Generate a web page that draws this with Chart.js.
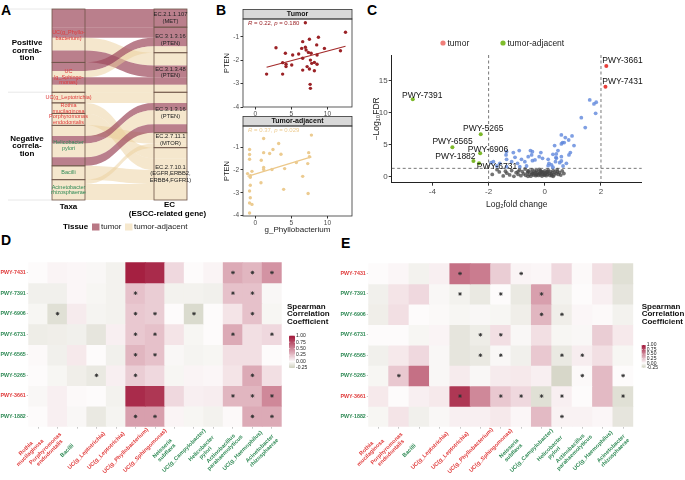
<!DOCTYPE html>
<html><head><meta charset="utf-8">
<script src="https://cdn.jsdelivr.net/npm/chart.js@4.4.1/dist/chart.umd.min.js"></script>
<style>
html,body{margin:0;padding:0;background:#fff;}
body{width:685px;height:480px;position:relative;overflow:hidden;font-family:"Liberation Sans",Arial,Helvetica,sans-serif;}
.plbl{position:absolute;font-weight:bold;font-size:14px;line-height:14px;color:#000;}
</style></head><body>
<div class="plbl" style="left:1px;top:3px">A</div>
<div class="plbl" style="left:216px;top:3px">B</div>
<div class="plbl" style="left:367px;top:3px">C</div>
<div class="plbl" style="left:1px;top:233px">D</div>
<div class="plbl" style="left:341px;top:236px">E</div>
<script>
// ================= DATA =================
// ---- Panel A (alluvial) ----
const taxaLabels = [['UC(g_Phyllo-','bacterium)'],['UC','(g_Sphingo-','monas)'],['UC(g_Leptotrichia)'],['Rothia','mucilaginosa'],['Porphyromonas','endodontalis'],['Helicobacter','pylori'],['Bacilli'],['Acinetobacter','rhizosphaerae']];
const taxaEnriched = ['tumor','tumor','tumor','tumor','tumor','adjacent','adjacent','adjacent'];
const ecLabels = [['EC.2.1.1.107','(MET)'],['EC.3.1.3.16','(PTEN)'],['EC.3.1.3.48','(PTEN)'],['EC.3.1.3.16','(PTEN)'],['EC.2.7.11.1','(MTOR)'],['EC.2.7.10.1','(EGFR,ERBB2,','ERBB4,FGFR1)']];
const corrGroupLabels = [['Positive','correla-','tion'],['Negative','correla-','tion']];
const corrGroupOfTaxon = [0,0,1,1,1,1,1,1];
const flowFrom   = [0,0,0,0,1,1,1,1,2,3,4,5,5,5,5,6,7,7];
const flowTo     = [0,1,2,2,1,1,2,2,3,5,5,4,3,3,3,5,4,5];
const flowTissue = ['tumor','tumor','adjacent','tumor','tumor','adjacent','tumor','adjacent','adjacent','adjacent','adjacent','adjacent','tumor','adjacent','tumor','adjacent','adjacent','adjacent'];
const flowWeight = [1.7,1.0,1.2,1.1,0.8,0.6,0.7,0.7,1.0,1.0,1.1,1.0,0.7,1.3,0.8,1.3,0.4,1.5];

// ---- Panel B (scatter) ----
const tumorX = [6.94,12.5,8.75,7.5,6.57,8.51,2.87,6.94,7.04,9.58,11.8,6.43,7.36,4.17,5.18,6.01,7.74,8.56,6.57,7.64,3.79,4.26,4.26,5.05,8.19,8.56,7.82,7.18,7.5,6.57,8.19,1.57,3.79,7.6,7.64];
const tumorY = [-0.39,-0.80,-1.01,-1.10,-1.20,-1.34,-1.46,-1.44,-1.56,-1.49,-1.59,-1.49,-1.66,-1.70,-1.77,-1.73,-1.70,-1.77,-1.91,-1.99,-2.10,-2.17,-2.27,-2.20,-2.09,-2.17,-2.13,-2.27,-2.37,-2.42,-2.45,-2.59,-2.59,-3.03,-3.20];
const adjX = [7.78,1.16,3.24,-0.79,2.45,1.16,1.99,3.56,7.4,-0.79,7.5,-0.79,0.83,5.69,7.27,1.16,1.16,2.31,4.07,-0.46,-1.07,-0.69,-0.69,6.57,0.79,-0.69,-0.79,3.93,7.32,-0.69,-0.79,-0.46,-0.79];
const adjY = [-0.47,-0.62,-0.84,-1.10,-1.10,-1.24,-1.28,-1.31,-1.24,-1.32,-1.42,-1.53,-1.57,-1.67,-1.72,-1.89,-1.98,-1.98,-1.94,-2.06,-2.16,-2.25,-2.32,-2.28,-2.56,-2.67,-2.92,-2.85,-3.03,-3.22,-3.45,-3.51,-3.89];
const tumorStat = ['0.22','0.180'];
const adjStat = ['0.37','0.029'];

// ---- Panel C (volcano) ----
const pathwayNames = ['PWY-3661','PWY-7431','PWY-7391','PWY-5265','PWY-6565','PWY-6906','PWY-1882','PWY-6731'];
const pathwayFC = [2.19,2.16,-4.70,-2.28,-3.29,-2.30,-2.54,-2.34];
const pathwayNegLogFDR = [17.3,14.06,12.09,6.62,4.59,3.65,2.45,2.08];
const pathwayGroup = ['tumor','tumor','adjacent','adjacent','adjacent','adjacent','adjacent','adjacent'];
const labelFC = [2.05,2.05,-5.08,-2.91,-4.0,-2.74,-3.9,-2.42];
const labelNegLogFDR = [18.1,14.8,12.6,7.45,5.47,4.28,3.13,1.56];
const sigFC = [1.60,1.75,1.83,1.81,1.30,1.44,0.59,0.97,0.73,0.85,1.04,0.63,0.69,0.59,0.35,0.47,0.41,0.29,0.91,0.86,0.59,0.41,0.59,0.38,0.53,0.12,0.15,0.24,0.12,0.29,-0.14,-0.20,-0.08,-0.51,-0.44,-0.47,-0.59,-0.44,-0.35,-0.91,-1.12,-1.36,-1.38,-1.06,-0.83,-0.71,-0.97,-1.18,-1.36,-1.60,-1.83,-1.91,-1.36,-0.89,-0.65,-1.71,0.40,0.77,0.65];
const sigNegLogFDR = [11.98,11.36,11.62,9.9,9.22,7.66,6.52,6.36,6.1,5.73,4.85,5.32,5.32,5.11,4.85,4.07,3.55,3.49,3.76,3.39,3.13,2.87,2.45,2.35,2.19,2.71,2.09,1.83,1.72,1.47,3.76,3.13,2.87,4.07,3.91,3.39,3.13,2.5,2.61,4.07,3.76,3.91,3.39,3.03,2.71,2.35,2.09,2.35,2.71,2.09,2.35,2.19,1.56,1.56,1.67,1.67,3.03,2.09,1.67];
const nsFC = [-1.87,-1.62,-1.48,-1.35,-1.25,-1.18,-1.1,-1.02,-0.95,-0.9,-0.85,-0.8,-0.75,-0.7,-0.68,-0.62,-0.58,-0.55,-0.5,-0.48,-0.45,-0.42,-0.4,-0.37,-0.35,-0.32,-0.3,-0.28,-0.25,-0.22,-0.2,-0.18,-0.15,-0.13,-0.1,-0.08,-0.05,-0.03,0.0,0.02,0.05,0.07,0.1,0.12,0.15,0.18,0.2,0.23,0.26,0.3,0.33,0.36,0.4,0.44,0.48,0.52,0.57,0.62,0.68,0.3,-0.6,-1.4,-1.7,-0.95,-0.3,0.1,-0.15,0.25,-0.45,-0.6,0.45,-0.2,0.0,-0.1];
const nsNegLogFDR = [0.35,0.75,0.12,0.55,0.28,0.95,0.05,0.62,0.35,1.05,0.15,0.78,0.45,1.2,0.22,0.6,0.9,0.35,0.08,0.7,1.1,0.5,0.25,0.85,0.6,0.15,0.95,0.4,0.7,0.2,1.15,0.55,0.3,0.8,0.1,0.45,0.65,0.25,0.9,0.5,0.15,0.7,0.35,1.05,0.55,0.2,0.8,0.4,0.6,0.95,0.3,0.75,0.5,1.1,0.35,0.65,0.25,0.9,0.5,0.05,0.05,0.85,1.1,0.8,0.3,0.8,0.95,0.15,0.4,0.85,0.8,0.45,0.3,0.75];
const fcCutoff = 2;
const fdrCutoff = 0.05;

// ---- Panels D/E (heatmaps) ----
const hmRows = ['PWY-7431','PWY-7391','PWY-6906','PWY-6731','PWY-6565','PWY-5265','PWY-3661','PWY-1882'];
const hmRowGroup = ['tumor','adjacent','adjacent','adjacent','adjacent','adjacent','tumor','adjacent'];
const hmCols = [['Rothia','mucilaginosa'],['Porphyromonas','endodontalis'],'Bacilli','UC(g_Leptotrichia)','UC(g_Leptotrichia)','UC(g_Phyllobacterium)','UC(g_Sphingomonas)',['Neisseria','subflava'],'UC(g_Campylobacter)',['Helicobacter','pylori'],['Actinobacillus','parahaemolyticus'],'UC(g_Haemophilus)',['Acinetobacter','rhizosphaerae']];
const hmColGroup = ['tumor','tumor','adjacent','tumor','tumor','tumor','tumor','adjacent','adjacent','adjacent','adjacent','adjacent','adjacent'];
const dCorr = [
 [0.00,0.03,0.02,-0.02,-0.05,0.95,0.90,0.15,0.00,0.03,0.35,0.30,0.45],
 [-0.06,-0.06,0.02,-0.03,-0.05,0.25,0.20,-0.05,-0.05,-0.06,0.25,0.25,-0.02],
 [-0.03,-0.15,0.07,-0.04,-0.05,0.22,0.20,0.00,-0.18,0.00,0.10,0.25,-0.03],
 [-0.08,-0.07,-0.06,-0.12,0.05,0.22,0.25,0.10,-0.03,0.00,0.35,0.12,0.15],
 [0.01,-0.06,0.08,0.00,-0.06,0.30,0.25,-0.02,-0.04,-0.03,0.12,0.12,0.00],
 [0.00,-0.03,-0.07,-0.10,0.05,0.20,0.15,-0.03,0.03,0.02,0.10,0.35,0.12],
 [-0.02,0.05,0.01,0.00,-0.05,0.90,0.85,0.15,0.05,0.06,0.30,0.30,0.50],
 [0.00,0.05,-0.02,-0.10,-0.04,0.40,0.40,0.03,-0.03,-0.05,0.01,0.35,0.35]];
const dSig = [[11,12,13],[6,11,12],[2,6,7,9,12],[6,7,11,13],[6,7],[4,6,12],[11,12,13],[6,7,12,13]];
const eCorr = [
 [0.00,0.02,-0.05,0.05,0.60,0.55,0.20,0.03,0.02,0.15,0.01,0.12,-0.15],
 [-0.06,0.10,0.15,-0.02,-0.05,-0.10,0.00,-0.10,0.40,-0.05,0.00,0.05,-0.12],
 [-0.07,0.12,0.00,-0.01,-0.03,-0.02,-0.03,-0.07,0.30,-0.07,0.02,0.01,-0.05],
 [0.00,0.00,-0.03,0.03,-0.12,-0.08,0.12,-0.02,0.12,-0.03,-0.02,0.20,0.08],
 [-0.06,0.08,0.15,-0.02,-0.12,-0.10,-0.02,-0.06,0.22,-0.10,0.06,0.12,-0.03],
 [-0.03,0.22,0.60,-0.02,0.07,-0.02,0.07,0.08,0.05,-0.20,0.01,0.28,0.00],
 [0.08,0.00,0.05,0.08,0.85,0.50,0.22,0.15,-0.15,0.05,0.00,0.28,-0.15],
 [-0.03,0.10,-0.06,-0.02,0.05,0.05,0.08,0.02,0.28,0.04,0.04,0.02,-0.12]];
const eSig = [[5,8],[5,7,9],[9,10],[6,7],[6,7,10,11],[2,11,13],[5,7,8,9,10,13],[10]];
const cbTicks = [1.00,0.75,0.50,0.25,0.00,-0.25];

// ================= DRAWING =================
Chart.defaults.font.family = '"Liberation Sans", Arial, Helvetica, sans-serif';
Chart.defaults.animation = false;
Chart.defaults.plugins.legend.display = false;
Chart.defaults.plugins.tooltip.enabled = false;
const RED = '#e03a3a', GREEN = '#2f8a55';
const grpColor = g => g === 'tumor' ? RED : GREEN;

function mk(left, top, w, h) {
  const c = document.createElement('canvas');
  c.width = w; c.height = h;
  c.style.cssText = 'position:absolute;left:' + left + 'px;top:' + top + 'px;width:' + w + 'px;height:' + h + 'px;';
  document.body.appendChild(c);
  return c;
}
function lines(ctx, arr, x, yc, lh) {
  const y0 = yc - (arr.length - 1) * lh / 2;
  arr.forEach((t, i) => ctx.fillText(t, x, y0 + i * lh));
}
function fixW(w) { return s => { s.width = w; }; }
function fixH(h) { return s => { s.height = h; }; }
function setTicks(vals) { return s => { s.ticks = vals.map(v => ({value: v})); }; }

// ---------- Panel A ----------
const totalW = flowWeight.reduce((a, b) => a + b, 0);
const SW = 33 / 135;
const alluvialPlugin = {
  id: 'alluvial',
  afterDraw(chart) {
    const {ctx, scales: {x, y}} = chart;
    const nT = taxaLabels.length, nE = ecLabels.length;
    const tTot = new Array(nT).fill(0), eTot = new Array(nE).fill(0);
    flowWeight.forEach((w, i) => { tTot[flowFrom[i]] += w; eTot[flowTo[i]] += w; });
    const tStart = [], eStart = [];
    let acc = 0; tTot.forEach((v, i) => { tStart[i] = acc; acc += v; });
    acc = 0; eTot.forEach((v, i) => { eStart[i] = acc; acc += v; });
    const tUsed = new Array(nT).fill(0), eUsed = new Array(nE).fill(0);
    const L = [], R = [];
    flowWeight.forEach((w, i) => { const t = flowFrom[i]; L[i] = tStart[t] + tUsed[t]; tUsed[t] += w; });
    const order = flowWeight.map((w, i) => i).sort((a, b) => flowTo[a] - flowTo[b] || a - b);
    order.forEach(i => { const e = flowTo[i]; R[i] = eStart[e] + eUsed[e]; eUsed[e] += flowWeight[i]; });
    const xL0 = x.getPixelForValue(0), xL1 = x.getPixelForValue(SW), xR0 = x.getPixelForValue(1 - SW), xR1 = x.getPixelForValue(1);
    const xm = (xL1 + xR0) / 2;
    ctx.save();
    const gStart = [0], gEnd = [];
    let g0 = 0; tTot.forEach((v, i) => { g0 += v; if (i + 1 < nT && corrGroupOfTaxon[i + 1] !== corrGroupOfTaxon[i]) { gEnd.push(g0); gStart.push(g0); } });
    gEnd.push(totalW);
    ctx.strokeStyle = '#e2e2e2'; ctx.lineWidth = 0.8;
    [0].concat(gEnd).forEach(v => { const py = y.getPixelForValue(v); ctx.beginPath(); ctx.moveTo(8, py); ctx.lineTo(xL0, py); ctx.stroke(); });
    ctx.fillStyle = '#000'; ctx.font = 'bold 8px "Liberation Sans", Arial'; ctx.textAlign = 'center'; ctx.textBaseline = 'middle';
    corrGroupLabels.forEach((lab, gi) => lines(ctx, lab, 27, y.getPixelForValue((gStart[gi] + gEnd[gi]) / 2), 7.5));
    flowWeight.forEach((w, i) => {
      const a0 = y.getPixelForValue(L[i]), a1 = y.getPixelForValue(L[i] + w);
      const b0 = y.getPixelForValue(R[i]), b1 = y.getPixelForValue(R[i] + w);
      ctx.beginPath();
      ctx.moveTo(xL0, a0); ctx.lineTo(xL1, a0);
      ctx.bezierCurveTo(xm, a0, xm, b0, xR0, b0);
      ctx.lineTo(xR1, b0); ctx.lineTo(xR1, b1); ctx.lineTo(xR0, b1);
      ctx.bezierCurveTo(xm, b1, xm, a1, xL1, a1);
      ctx.lineTo(xL0, a1); ctx.closePath();
      ctx.fillStyle = flowTissue[i] === 'tumor' ? 'rgba(160,78,96,0.72)' : 'rgba(236,208,155,0.5)';
      ctx.fill();
    });
    ctx.strokeStyle = '#6e5448'; ctx.lineWidth = 0.8;
    tTot.forEach((v, i) => { const p0 = y.getPixelForValue(tStart[i]), p1 = y.getPixelForValue(tStart[i] + v); ctx.strokeRect(xL0, p0, xL1 - xL0, p1 - p0); });
    eTot.forEach((v, i) => { const p0 = y.getPixelForValue(eStart[i]), p1 = y.getPixelForValue(eStart[i] + v); ctx.strokeRect(xR0, p0, xR1 - xR0, p1 - p0); });
    ctx.font = '5.5px "Liberation Sans", Arial';
    tTot.forEach((v, i) => { ctx.fillStyle = grpColor(taxaEnriched[i]); lines(ctx, taxaLabels[i], (xL0 + xL1) / 2, y.getPixelForValue(tStart[i] + v / 2), 5.6); });
    ctx.fillStyle = '#222'; ctx.font = '5.8px "Liberation Sans", Arial';
    eTot.forEach((v, i) => lines(ctx, ecLabels[i], (xR0 + xR1) / 2, y.getPixelForValue(eStart[i] + v / 2), 6.8));
    ctx.fillStyle = '#000'; ctx.font = 'bold 8px "Liberation Sans", Arial';
    ctx.fillText('Taxa', (xL0 + xL1) / 2, 207);
    ctx.fillText('EC', (xR0 + xR1) / 2 - 1, 205);
    ctx.fillText('(ESCC-related gene)', (xR0 + xR1) / 2 - 3, 214);
    ctx.textAlign = 'left';
    ctx.fillText('Tissue', 63, 227);
    ctx.fillStyle = 'rgb(185,120,133)'; ctx.fillRect(92, 223.5, 7.5, 7);
    ctx.fillStyle = 'rgb(246,232,205)'; ctx.fillRect(125, 223.5, 7.5, 7);
    ctx.fillStyle = '#222'; ctx.font = '8px "Liberation Sans", Arial';
    ctx.fillText('tumor', 101, 227);
    ctx.fillText('tumor-adjacent', 134, 227);
    ctx.restore();
  }
};
new Chart(mk(0, 0, 232, 250), {
  type: 'scatter', data: {datasets: []},
  options: {responsive: false, devicePixelRatio: 1,
    layout: {padding: {left: 52, right: 45, top: 9, bottom: 50}},
    scales: {x: {type: 'linear', min: 0, max: 1, display: false}, y: {type: 'linear', min: 0, max: totalW, reverse: true, display: false}}},
  plugins: [alluvialPlugin]
});

// ---------- Panel B ----------
function linfit(xs, ys) {
  const n = Math.min(xs.length, ys.length);
  let sx = 0, sy = 0, sxx = 0, sxy = 0;
  for (let i = 0; i < n; i++) { sx += xs[i]; sy += ys[i]; sxx += xs[i] * xs[i]; sxy += xs[i] * ys[i]; }
  const b = (n * sxy - sx * sy) / (n * sxx - sx * sx), a = (sy - b * sx) / n;
  const mn = Math.min(...xs.slice(0, n)), mx = Math.max(...xs.slice(0, n));
  return [{x: mn, y: a + b * mn}, {x: mx, y: a + b * mx}];
}
const stripPlugin = {
  id: 'strip',
  afterDraw(chart, args, o) {
    const {ctx, chartArea: {left, right, top, bottom}} = chart;
    ctx.save();
    ctx.fillStyle = '#d9d9d9'; ctx.fillRect(left, top - o.h, right - left, o.h);
    ctx.strokeStyle = '#333'; ctx.lineWidth = 0.8;
    ctx.strokeRect(left, top - o.h, right - left, o.h);
    ctx.strokeRect(left, top, right - left, bottom - top);
    ctx.fillStyle = '#111'; ctx.font = 'bold 7px "Liberation Sans", Arial'; ctx.textAlign = 'center'; ctx.textBaseline = 'middle';
    ctx.fillText(o.title, (left + right) / 2, top - o.h / 2);
    ctx.textAlign = 'left'; ctx.fillStyle = o.color;
    let xx = left + 5; const yy = top + 4.5;
    [['R', true], [' = ' + o.stat[0] + ', ', false], ['p', true], [' = ' + o.stat[1], false]].forEach(([t, it]) => {
      ctx.font = (it ? 'italic ' : '') + '6px "Liberation Sans", Arial';
      ctx.fillText(t, xx, yy); xx += ctx.measureText(t).width;
    });
    ctx.restore();
  }
};
function scatterB(canvas, xs, ys, ptColor, lnColor, title, stat, yMin, yMax, padTop, xH, showXTitle) {
  const pts = xs.map((v, i) => ({x: v, y: ys[i]})).filter(p => p.y !== undefined);
  new Chart(canvas, {
    type: 'scatter',
    data: {datasets: [
      {data: pts, backgroundColor: ptColor, borderWidth: 0, pointRadius: 1.7},
      {type: 'line', data: linfit(xs, ys), borderColor: lnColor, borderWidth: 1.2, pointRadius: 0, fill: false}
    ]},
    options: {responsive: false, devicePixelRatio: 1,
      layout: {padding: {left: 0, right: 33, top: padTop, bottom: 0}},
      plugins: {strip: {h: 9.5, title: title, stat: stat, color: ptColor}},
      scales: {
        x: {type: 'linear', min: -1.7, max: 13.4, afterBuildTicks: setTicks([0, 5, 10]), afterFit: fixH(xH),
          grid: {display: true, drawOnChartArea: false, tickLength: 2.5, color: '#333'}, border: {display: false},
          ticks: {font: {size: 6.5}, color: '#4d4d4d', padding: 0.5},
          title: {display: showXTitle, text: 'g_Phyllobacterium', font: {size: 8}, color: '#222', padding: {top: 0, bottom: 10}}},
        y: {type: 'linear', min: yMin, max: yMax, afterBuildTicks: setTicks([-4, -3, -2, -1]), afterFit: fixW(28),
          grid: {display: true, drawOnChartArea: false, tickLength: 2.5, color: '#333'}, border: {display: false},
          ticks: {font: {size: 6.5}, color: '#4d4d4d', padding: 1.5},
          title: {display: true, text: 'PTEN', font: {size: 7.5}, color: '#222', padding: {top: 7.5}}}
      }},
    plugins: [stripPlugin]
  });
}
scatterB(mk(215, 0, 170, 116), tumorX, tumorY, '#9b2226', '#a32a2a', 'Tumor', tumorStat, -4.0, -0.23, 19, 9, false);
scatterB(mk(215, 116, 170, 129), adjX, adjY, '#eccb90', '#ecc88a', 'Tumor-adjacent', adjStat, -4.02, -0.07, 10, 29, true);

// ---------- Panel C ----------
const volcanoPlugin = {
  id: 'volcano',
  beforeDatasetsDraw(chart) {
    const {ctx, chartArea: {left, right, top, bottom}, scales: {x, y}} = chart;
    ctx.save(); ctx.strokeStyle = '#555'; ctx.lineWidth = 0.8; ctx.setLineDash([3, 2.5]);
    [-fcCutoff, fcCutoff].forEach(v => { const px = x.getPixelForValue(v); ctx.beginPath(); ctx.moveTo(px, top); ctx.lineTo(px, bottom); ctx.stroke(); });
    const py = y.getPixelForValue(-Math.log10(fdrCutoff));
    ctx.beginPath(); ctx.moveTo(left, py); ctx.lineTo(right, py); ctx.stroke();
    ctx.restore();
  },
  afterDatasetsDraw(chart) {
    const {ctx, scales: {x, y}} = chart;
    ctx.save(); ctx.fillStyle = '#111'; ctx.font = '8.5px "Liberation Sans", Arial'; ctx.textAlign = 'left'; ctx.textBaseline = 'middle';
    pathwayNames.forEach((n, i) => ctx.fillText(n, x.getPixelForValue(labelFC[i]), y.getPixelForValue(labelNegLogFDR[i])));
    ctx.fillStyle = '#f07f7a'; ctx.beginPath(); ctx.arc(83, 43, 2.6, 0, Math.PI * 2); ctx.fill();
    ctx.fillStyle = '#7fbd2c'; ctx.beginPath(); ctx.arc(143, 43, 2.6, 0, Math.PI * 2); ctx.fill();
    ctx.fillStyle = '#222';
    ctx.fillText('tumor', 87.5, 43.5);
    ctx.fillText('tumor-adjacent', 147.5, 43.5);
    ctx.restore();
  }
};
const toPts = (xs, ys) => xs.map((v, i) => ({x: v, y: ys[i]})).filter(p => p.y !== undefined);
new Chart(mk(360, 0, 325, 215), {
  type: 'scatter',
  data: {datasets: [
    {data: toPts(nsFC, nsNegLogFDR), backgroundColor: 'rgba(70,70,70,0.75)', borderWidth: 0, pointRadius: 1.9, order: 3},
    {data: toPts(sigFC, sigNegLogFDR), backgroundColor: 'rgba(95,135,220,0.8)', borderWidth: 0, pointRadius: 1.9, order: 2},
    {data: toPts(pathwayFC, pathwayNegLogFDR), backgroundColor: pathwayGroup.map(g => g === 'tumor' ? '#e8403b' : '#7cb82a'), borderWidth: 0, pointRadius: 2, order: 1}
  ]},
  options: {responsive: false, devicePixelRatio: 1,
    layout: {padding: {left: 0, right: 43.3, top: 55, bottom: 0}},
    scales: {
      x: {type: 'linear', min: -5.45, max: 3.45, afterBuildTicks: setTicks([-4, -2, 0, 2]), afterFit: fixH(32.3),
        grid: {display: true, drawOnChartArea: false, tickLength: 3, color: '#333'}, border: {display: true, color: '#222', width: 1},
        ticks: {font: {size: 8}, color: '#4d4d4d', padding: 1.5},
        title: {display: true, text: 'Log\u2082fold change', font: {size: 8.5}, color: '#222', padding: {top: 0, bottom: 5}}},
      y: {type: 'linear', min: -0.94, max: 19.0, afterBuildTicks: setTicks([0, 5, 10, 15]), afterFit: fixW(31.7),
        grid: {display: true, drawOnChartArea: false, tickLength: 3, color: '#333'}, border: {display: true, color: '#222', width: 1},
        ticks: {font: {size: 8}, color: '#4d4d4d', padding: 1},
        title: {display: true, text: '\u2212Log\u2081\u2080FDR', font: {size: 8.5}, color: '#222', padding: {top: 12}}}
    }},
  plugins: [volcanoPlugin]
});

// ---------- Panels D / E ----------
function corrColor(v) {
  const lo = [205, 206, 188], mid = [253, 251, 251], hi = [160, 20, 55];
  const b = v < 0 ? lo : hi, t = v < 0 ? Math.min(1, -v / 0.25) : Math.min(1, v);
  return 'rgb(' + mid.map((c, i) => Math.round(c + (b[i] - c) * t)).join(',') + ')';
}
const colorbarPlugin = {
  id: 'colorbar',
  afterDraw(chart, args, o) {
    const {ctx, scales: {x}, chartArea} = chart;
    ctx.save();
    // rotated, centred column labels (hjust = 0.5, angle = 45)
    ctx.font = 'bold 5.6px "Liberation Sans", Arial'; ctx.textAlign = 'center'; ctx.textBaseline = 'middle';
    hmCols.forEach((lab, i) => {
      const arr = Array.isArray(lab) ? lab : [lab];
      ctx.save();
      ctx.translate(x.getPixelForValue(i + 0.5) - 10, chartArea.bottom + 24);
      ctx.rotate(-Math.PI / 4);
      ctx.fillStyle = grpColor(hmColGroup[i]);
      lines(ctx, arr, 0, 0, 6);
      ctx.restore();
    });
    ctx.fillStyle = '#111'; ctx.font = 'bold 8px "Liberation Sans", Arial'; ctx.textAlign = 'left'; ctx.textBaseline = 'middle';
    ['Spearman', 'Correlation', 'Coefficient'].forEach((t, i) => ctx.fillText(t, o.tx, o.ty + i * 7.5));
    const top = o.by0, bot = o.by1, max = cbTicks[0], min = cbTicks[cbTicks.length - 1];
    const g = ctx.createLinearGradient(0, top, 0, bot);
    for (let k = 0; k <= 10; k++) { const v = max - (max - min) * k / 10; g.addColorStop(k / 10, corrColor(v)); }
    ctx.fillStyle = g; ctx.fillRect(o.bx, top, o.bw, bot - top);
    ctx.font = '5px "Liberation Sans", Arial'; ctx.fillStyle = '#222';
    ctx.strokeStyle = '#fff'; ctx.lineWidth = 0.6;
    cbTicks.forEach(v => {
      const py = top + (max - v) / (max - min) * (bot - top);
      ctx.beginPath(); ctx.moveTo(o.bx, py); ctx.lineTo(o.bx + 1.2, py); ctx.moveTo(o.bx + o.bw - 1.2, py); ctx.lineTo(o.bx + o.bw, py); ctx.stroke();
      ctx.fillText(v.toFixed(2), o.bx + o.bw + 1, py);
    });
    ctx.restore();
  }
};
function heatmap(canvas, corr, sig, padTop, padRight, cb) {
  const datasets = hmRows.map((r, ri) => ({
    type: 'bar', order: 2,
    data: hmCols.map((c, ci) => ({x: ci + 0.5, y: [ri, ri + 1]})),
    backgroundColor: hmCols.map((c, ci) => corrColor(corr[ri][ci])),
    borderWidth: 0, grouped: false, barPercentage: 1, categoryPercentage: 1, inflateAmount: 0.4
  }));
  const stars = [];
  sig.forEach((cols, ri) => cols.forEach(c => stars.push({x: c - 0.5, y: ri + 0.5})));
  datasets.push({type: 'scatter', order: 0, data: stars, pointStyle: 'star', pointRadius: 1.8, borderColor: '#333', backgroundColor: '#333', borderWidth: 0.9});
  new Chart(canvas, {
    type: 'bar', data: {datasets},
    options: {responsive: false, devicePixelRatio: 1,
      layout: {padding: {left: 0, right: padRight, top: padTop, bottom: 0}},
      plugins: {colorbar: cb},
      scales: {
        x: {type: 'linear', min: 0, max: hmCols.length, offset: false, afterBuildTicks: setTicks(hmCols.map((c, i) => i + 0.5)), afterFit: fixH(53.3),
          grid: {display: true, offset: false, drawOnChartArea: false, tickLength: 2, color: '#c8c8c8'}, border: {display: false},
          ticks: {display: false, autoSkip: false}},
        y: {type: 'linear', min: 0, max: hmRows.length, reverse: true, afterBuildTicks: setTicks(hmRows.map((r, i) => i + 0.5)), afterFit: fixW(28.3),
          grid: {display: true, drawOnChartArea: false, tickLength: 1.5, color: '#c8c8c8'}, border: {display: false},
          ticks: {autoSkip: false, padding: 1, font: {size: 5.3, weight: 'bold'},
            color: c => grpColor(hmRowGroup[c.index]), callback: (v, i) => hmRows[i]}}
      }},
    plugins: [colorbarPlugin]
  });
}
heatmap(mk(0, 250, 340, 230), dCorr, dSig, 12.3, 58.3, {tx: 287, ty: 56.7, bx: 289, bw: 6, by0: 85.7, by1: 118});
heatmap(mk(340, 250, 345, 230), eCorr, eSig, 13.3, 51.7, {tx: 301.7, ty: 56.7, bx: 301.7, bw: 4, by0: 95, by1: 117.7});
</script>
</body></html>
